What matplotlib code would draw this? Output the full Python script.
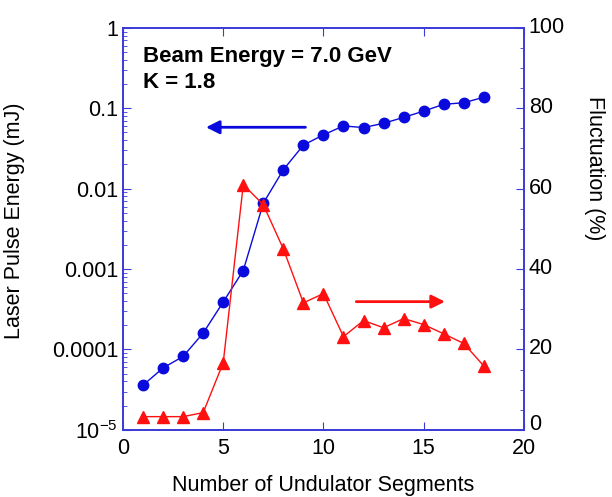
import matplotlib.pyplot as plt
import matplotlib.transforms as mtransforms
from matplotlib.ticker import FixedLocator, MultipleLocator, LogLocator, NullFormatter

plt.rcParams['font.family'] = ['Liberation Sans', 'DejaVu Sans']
plt.rcParams['mathtext.fontset'] = 'custom'
plt.rcParams['mathtext.rm'] = 'Liberation Sans'

# data
segments = list(range(1, 19))
pulse_energy = [3.6e-5, 5.9e-5, 8.2e-5, 1.6e-4, 3.9e-4, 9.6e-4, 6.6e-3, 0.0172, 0.0348,
                0.0467, 0.0603, 0.0575, 0.065, 0.077, 0.092, 0.112, 0.117, 0.137]
fluctuation = [3.3, 3.3, 3.3, 4.3, 16.7, 61.0, 56.0, 45.0, 31.6,
               33.9, 23.2, 27.2, 25.4, 27.7, 26.2, 23.9, 21.5, 15.9]
left_ticks = [1e-5, 1e-4, 1e-3, 1e-2, 1e-1, 1]
left_labels = ['10$^{-5}$', '0.0001', '0.001', '0.01', '0.1', '1']
right_ticks = [0, 20, 40, 60, 80, 100]

spine_col = '#3a3ad6'
blue = '#0a0adc'
red = '#ff1010'
fs = 15.5

fig = plt.figure(figsize=(6.12, 4.97), dpi=100)
ax1 = fig.add_axes([0.201, 0.135, 0.655, 0.809])
ax2 = ax1.twinx()

ax1.plot(segments, pulse_energy, '-o', color=blue, lw=1, ms=7.5, clip_on=False)
ax1.set_yscale('log')
ax1.set_ylim(1e-5, 1)
ax1.set_xlim(0, 20)
ax1.set_yticks(left_ticks)
ax1.set_yticklabels(left_labels)
ax1.yaxis.set_minor_locator(LogLocator(base=10, subs=range(2, 10)))
ax1.yaxis.set_minor_formatter(NullFormatter())
ax1.xaxis.set_major_locator(FixedLocator([0, 5, 10, 15, 20]))

ax2.plot(segments, fluctuation, '-^', color=red, lw=1, ms=8, clip_on=False)
ax2.set_ylim(0, 100)
ax2.set_yticks(right_ticks)
ax2.yaxis.set_minor_locator(MultipleLocator(5))

for ax in (ax1, ax2):
    for s in ax.spines.values():
        s.set_color(spine_col)
        s.set_linewidth(1.2)

ax1.tick_params(axis='both', which='both', direction='in', colors=spine_col,
                labelcolor='black', labelsize=fs, top=True, right=False)
ax1.tick_params(which='major', length=6)
ax1.tick_params(which='minor', length=3)
ax1.tick_params(axis='x', pad=6)
ax2.tick_params(axis='y', which='both', direction='in', colors=spine_col,
                labelcolor='black', labelsize=fs)
ax2.tick_params(which='major', length=6)
ax2.tick_params(which='minor', length=3)

# right tick labels sit a little above their ticks, the 0 more so
for val, lab in zip(right_ticks, ax2.get_yticklabels()):
    dy = 8 if val == 0 else 3
    lab.set_transform(lab.get_transform() +
                      mtransforms.ScaledTranslation(0, dy / 100, fig.dpi_scale_trans))

ax1.set_xlabel('Number of Undulator Segments', fontsize=fs)
ax1.xaxis.set_label_coords(0.5, -0.112)
ax1.set_ylabel('Laser Pulse Energy (mJ)', fontsize=fs)
ax1.yaxis.set_label_coords(-0.244, 0.52)
ax2.set_ylabel('Fluctuation (%)', fontsize=fs, rotation=270, va='center')
ax2.yaxis.set_label_coords(1.177, 0.652)

ax1.text(0.05, 0.955, 'Beam Energy = 7.0 GeV\nK = 1.8', transform=ax1.transAxes,
         fontsize=16, fontweight='bold', va='top', ha='left', linespacing=1.3)

ax1.annotate('', xy=(4.0, 0.058), xytext=(9.24, 0.058),
             arrowprops=dict(arrowstyle='-|>', color=blue, lw=2, mutation_scale=20))
ax2.annotate('', xy=(16.2, 31.9), xytext=(11.5, 31.9),
             arrowprops=dict(arrowstyle='-|>', color=red, lw=2, mutation_scale=20))

fig.savefig('out.png', dpi=100)
